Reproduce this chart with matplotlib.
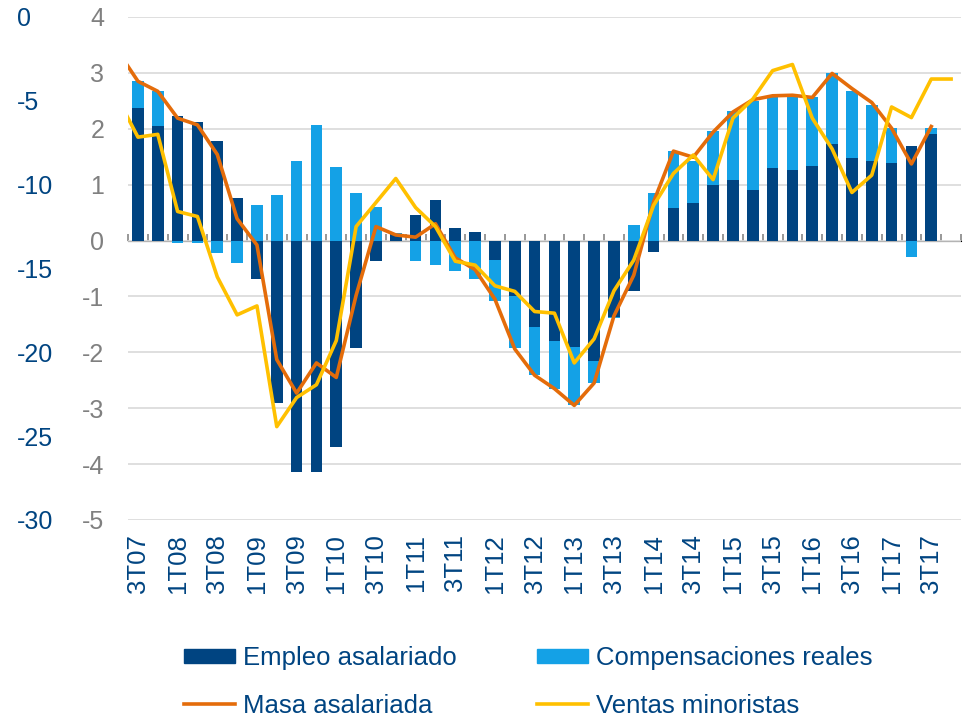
import numpy as np
import matplotlib
matplotlib.use("Agg")
import matplotlib.pyplot as plt
from matplotlib.patches import Patch
from matplotlib.lines import Line2D

plt.rcParams['font.family'] = ['Liberation Sans', 'DejaVu Sans']
plt.rcParams['axes.unicode_minus'] = False

# trimestres (2T07 solo para que las lineas salgan del borde izquierdo)
trimestres = ["2T07",
              "3T07", "4T07",
              "1T08", "2T08", "3T08", "4T08",
              "1T09", "2T09", "3T09", "4T09",
              "1T10", "2T10", "3T10", "4T10",
              "1T11", "2T11", "3T11", "4T11",
              "1T12", "2T12", "3T12", "4T12",
              "1T13", "2T13", "3T13", "4T13",
              "1T14", "2T14", "3T14", "4T14",
              "1T15", "2T15", "3T15", "4T15",
              "1T16", "2T16", "3T16", "4T16",
              "1T17", "2T17", "3T17", "4T17"]

# barras desde 3T07 hasta 4T17
empleo = [2.38, 2.05, 2.23, 2.13, 1.78, 0.77, -0.69, -2.90, -4.15, -4.15,
          -3.69, -1.93, -0.37, 0.12, 0.45, 0.73, 0.23, 0.16, -0.34, -1.00,
          -1.54, -1.79, -1.90, -2.15, -1.36, -0.91, -0.20, 0.59, 0.67, 0.99,
          1.09, 0.91, 1.30, 1.27, 1.34, 1.73, 1.48, 1.42, 1.38, 1.70,
          1.91, np.nan]
compensaciones = [0.47, 0.62, -0.05, -0.05, -0.23, -0.41, 0.63, 0.81, 1.42, 2.06,
                  1.31, 0.85, 0.60, 0.02, -0.37, -0.44, -0.54, -0.69, -0.75, -0.93,
                  -0.87, -0.86, -1.05, -0.40, -0.02, 0.27, 0.85, 1.01, 0.76, 0.97,
                  1.22, 1.58, 1.26, 1.29, 1.22, 1.26, 1.19, 1.00, 0.64, -0.30,
                  0.11, np.nan]

# lineas desde 2T07
masa = [3.38, 2.85, 2.67, 2.19, 2.07, 1.54, 0.39, -0.08, -2.13, -2.73,
        -2.19, -2.45, -0.98, 0.25, 0.10, 0.06, 0.30, -0.31, -0.52, -1.05,
        -1.94, -2.41, -2.65, -2.95, -2.55, -1.35, -0.62, 0.69, 1.60, 1.49,
        1.94, 2.30, 2.52, 2.59, 2.60, 2.56, 2.99, 2.72, 2.47, 2.01,
        1.37, 2.04, np.nan]
ventas = [2.53, 1.85, 1.90, 0.52, 0.43, -0.65, -1.33, -1.17, -3.33, -2.81,
          -2.58, -1.79, 0.25, 0.68, 1.11, 0.59, 0.25, -0.37, -0.44, -0.81,
          -0.91, -1.27, -1.30, -2.19, -1.76, -0.90, -0.35, 0.63, 1.20, 1.53,
          1.09, 2.19, 2.53, 3.04, 3.15, 2.19, 1.64, 0.86, 1.17, 2.39,
          2.20, 2.89, 2.89]

eje_izq = [0, -5, -10, -15, -20, -25, -30]

c_oscuro = '#004481'
c_claro = '#14a1e6'
c_naranja = '#e46c0a'
c_amarillo = '#ffc000'
c_texto = '#004481'
c_gris = '#808080'

x_lin = np.arange(len(trimestres)) - 1
x_bar = x_lin[1:]
emp = np.array(empleo)
com = np.array(compensaciones)
# apilado tipo excel: positivos y negativos por separado
base_com = np.where(np.sign(com) == np.sign(emp), emp, 0.0)

fig = plt.figure(figsize=(9.67, 7.17), dpi=100)
ax = fig.add_axes([0.1324, 0.2748, 0.8614, 0.7015])

ax.bar(x_bar, emp, width=0.59, color=c_oscuro, zorder=2)
ax.bar(x_bar, com, bottom=base_com, width=0.59, color=c_claro, zorder=2)
ax.plot(x_lin, masa, color=c_naranja, lw=2.6, zorder=3)
ax.plot(x_lin, ventas, color=c_amarillo, lw=2.6, zorder=4)

ax.set_xlim(-0.5, 41.5)
ax.set_ylim(-5, 4)
ax.set_yticks(range(-5, 5))
ax.grid(axis='y', color='#d9d9d9', lw=1.2, zorder=0)
ax.set_axisbelow(True)
for s in ax.spines.values():
    s.set_visible(False)

ax.set_xticks(x_bar[::2][:21])
ax.set_xticklabels(trimestres[1::2][:21], rotation=90, fontsize=18.5, color=c_texto)
ax.tick_params(axis='x', length=0, pad=10)
ax.tick_params(axis='y', length=0, pad=17, labelsize=18, labelcolor=c_gris)

# linea del cero con marcas entre categorias
cero = ax.secondary_xaxis(5 / 9)
cero.spines['bottom'].set_color('#868686')
cero.spines['bottom'].set_linewidth(1.6)
cero.set_xticks(np.arange(-0.5, 42, 1), labels=[])
cero.tick_params(axis='x', length=5, width=1.2, color='#868686')

# eje secundario (izquierda, fuera)
ax2 = ax.twinx()
ax2.set_ylim(-30, 0)
ax2.set_yticks(eje_izq)
ax2.yaxis.set_ticks_position('left')
for s in ax2.spines.values():
    s.set_visible(False)
ax2.tick_params(axis='y', length=0, pad=80, labelsize=18, labelcolor=c_texto)
for t in ax2.get_yticklabels():
    t.set_horizontalalignment('left')

handles = [Patch(color=c_oscuro), Line2D([], [], color=c_naranja, lw=2.6),
           Patch(color=c_claro), Line2D([], [], color=c_amarillo, lw=2.6)]
labels = ["Empleo asalariado", "Masa asalariada",
          "Compensaciones reales", "Ventas minoristas"]
fig.legend(handles, labels, loc='upper left', bbox_to_anchor=(184 / 967, 1 - 646 / 717),
           ncol=2, frameon=False, fontsize=18.5, labelcolor=c_texto,
           handlelength=2.0, handleheight=0.5, handletextpad=0.3,
           columnspacing=3.1, labelspacing=0.92, borderpad=0, borderaxespad=0)

fig.savefig('out.png', dpi=100)
